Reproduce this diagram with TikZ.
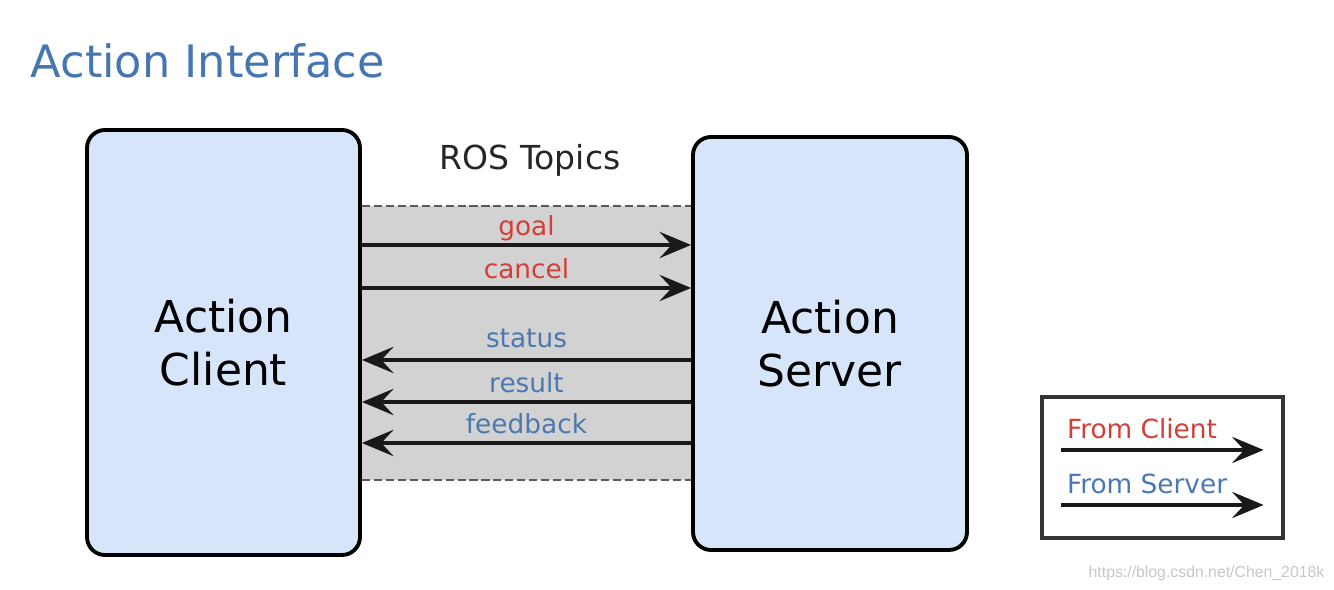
\documentclass[tikz,border=0pt]{standalone}
\usepackage{fontspec}
\setmainfont{DejaVu Sans}
\newfontfamily\vannmerkefont{Liberation Sans}
\usetikzlibrary{arrows.meta,positioning,backgrounds}
\definecolor{boksblaa}{RGB}{214,229,250}
\definecolor{baandgraa}{RGB}{210,210,210}
\definecolor{klientrod}{RGB}{212,62,56}
\definecolor{tjenerblaa}{RGB}{76,120,176}
\definecolor{tittelblaa}{RGB}{70,118,178}
\tikzset{
    %Define standard arrow tip
    >={Stealth[width=7.5pt,length=9pt,inset=3.5pt]},
    %Define style for boxes
    boks/.style={
           rectangle,
           rounded corners=0.18cm,
           draw=black, line width=1.1pt,
           fill=boksblaa,
           align=center,
           font=\fontsize{12.5}{15}\selectfont},
    % Define arrow style
    pil/.style={
           ->,
           line width=0.9pt,
           draw=black!90},
    % Define style for topic labels
    etikett/.style={
           anchor=base,
           yshift=2.6pt,
           inner sep=0pt,
           font=\fontsize{7.5}{9}\selectfont},
    % Define style for the dashed band edges
    kant/.style={
           black!65,
           line width=0.7pt,
           dash pattern=on 2.3pt off 1.1pt}
}
\begin{document}
\begin{tikzpicture}
 \useasboundingbox (0,0) rectangle (13.34,-5.90);
 \node[anchor=base west, inner sep=0pt, text=tittelblaa, font=\fontsize{12.7}{15}\selectfont] (tittel) at (0.30,-0.78) {Action Interface};
 \node[boks, minimum width=2.73cm, minimum height=4.25cm] (client) at (2.235,-3.425) {Action\\Client};
 \node[boks, minimum width=2.74cm, minimum height=4.13cm] (server) at (8.30,-3.435) {Action\\Server};
 \node[anchor=base, text=black!85, font=\fontsize{9.4}{11}\selectfont] (topics) at (5.30,-1.70) {ROS Topics};
 \begin{scope}[on background layer]
  \fill[baandgraa] (client.east |- 0,-2.06) rectangle (server.west |- 0,-4.80);
  \draw[kant] (client.east |- 0,-2.06) -- (server.west |- 0,-2.06);
  \draw[kant] (client.east |- 0,-4.80) -- (server.west |- 0,-4.80);
 \end{scope}
 % topics from client
 \draw[pil] (client.east |- 0,-2.45) -- node[etikett, text=klientrod] (goal) {goal} (server.west |- 0,-2.45);
 \draw[pil] (client.east |- 0,-2.88) -- node[etikett, text=klientrod] (cancel) {cancel} (server.west |- 0,-2.88);
 % topics from server
 \draw[pil] (server.west |- 0,-3.60) -- node[etikett, yshift=1pt, text=tjenerblaa] (status) {status} (client.east |- 0,-3.60);
 \draw[pil] (server.west |- 0,-4.02) -- node[etikett, text=tjenerblaa] (result) {result} (client.east |- 0,-4.02);
 \draw[pil] (server.west |- 0,-4.43) -- node[etikett, text=tjenerblaa] (feedback) {feedback} (client.east |- 0,-4.43);
 % legend
 \node[draw=black!80, line width=0.9pt, minimum width=2.41cm, minimum height=1.41cm] (legende) at (11.625,-4.675) {};
 \draw[pil] ([xshift=0.21cm]legende.west |- 0,-4.50) -- node[pos=0, anchor=base west, xshift=0.04cm, yshift=3.4pt, inner sep=0pt, text=klientrod, font=\fontsize{7.5}{9}\selectfont] (fraklient) {From Client} ([xshift=-0.21cm]legende.east |- 0,-4.50);
 \draw[pil] ([xshift=0.21cm]legende.west |- 0,-5.05) -- node[pos=0, anchor=base west, xshift=0.04cm, yshift=3.4pt, inner sep=0pt, text=tjenerblaa, font=\fontsize{7.5}{9}\selectfont] (fraserver) {From Server} ([xshift=-0.21cm]legende.east |- 0,-5.05);
 \node[anchor=base east, inner sep=0pt, text=black!22, font=\vannmerkefont\fontsize{4.5}{5}\selectfont] (vannmerke) at (13.25,-5.78) {https://blog.csdn.net/Chen\_2018k};
\end{tikzpicture}
\end{document}
